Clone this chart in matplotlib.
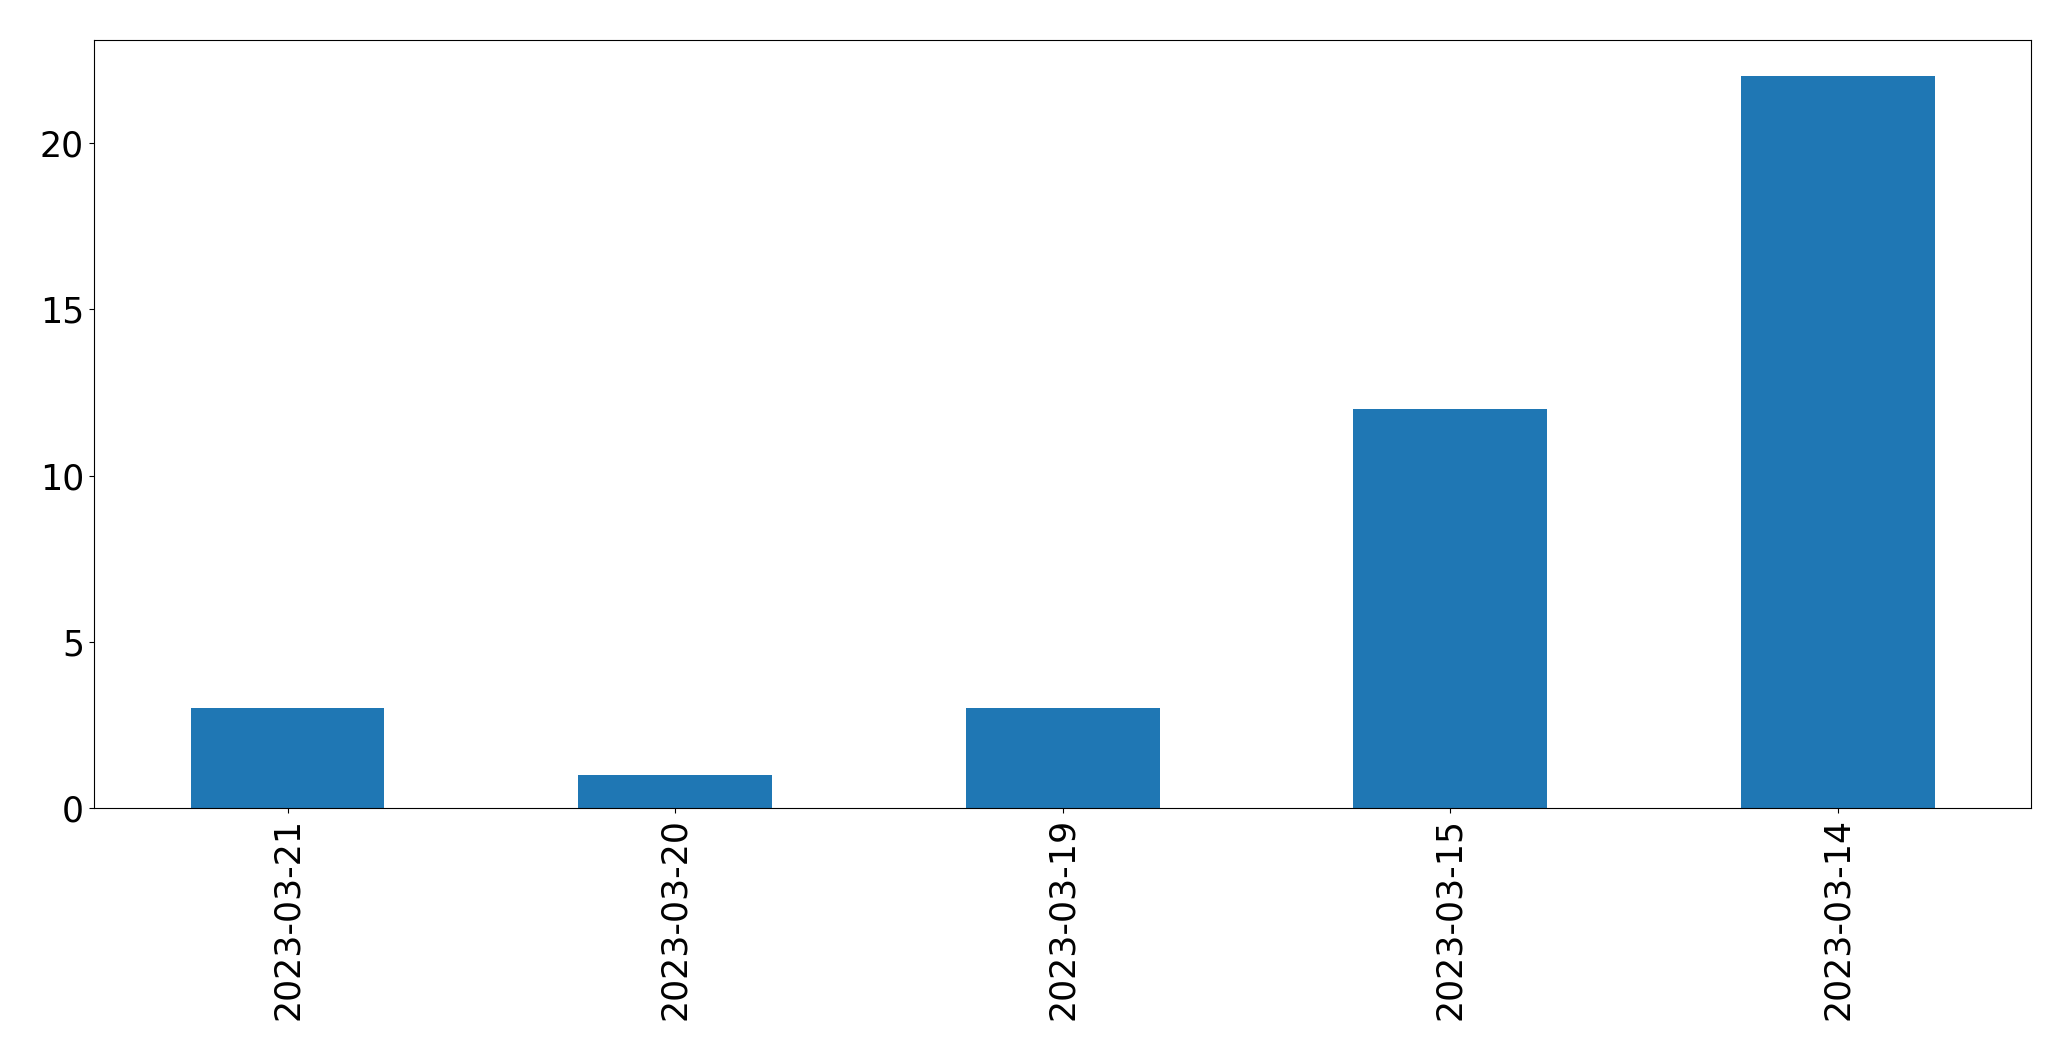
import pandas as pd
import matplotlib
matplotlib.use("Agg")
import matplotlib.pyplot as plt

# data
dates = ["2023-03-21", "2023-03-20", "2023-03-19", "2023-03-15", "2023-03-14"]
counts = [3, 1, 3, 12, 22]

s = pd.Series(counts, index=dates)

fig, ax = plt.subplots(figsize=(20.71, 10.61), dpi=100)
s.plot(kind="bar", ax=ax, fontsize=25)
fig.subplots_adjust(left=0.0453, right=0.9809, top=0.9627, bottom=0.2382)

fig.savefig("out.png", dpi=100)
